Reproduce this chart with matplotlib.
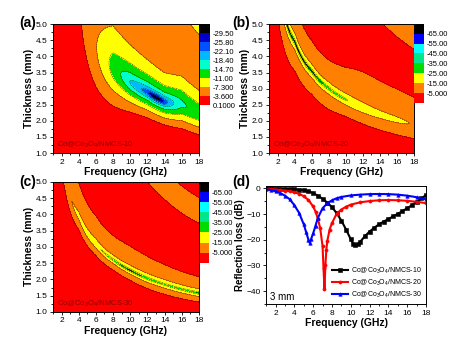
import numpy as np
import matplotlib.pyplot as plt
from matplotlib.ticker import MultipleLocator, FormatStrFormatter

plt.rcParams['font.family'] = ['Liberation Sans', 'DejaVu Sans']
plt.rcParams['mathtext.fontset'] = 'custom'
plt.rcParams['mathtext.rm'] = 'Liberation Sans'
plt.rcParams['mathtext.default'] = 'regular'

# material parameters are given at these frequencies (GHz)
freq_pts = [1, 2, 4, 6, 8, 10, 12, 14, 16, 18]

# complex refractive index n' - j n'' and normalised impedance z' + j z''
n_re_10 = [5.00, 4.33, 3.28, 2.95, 2.72, 2.64, 2.61, 2.55, 2.40, 2.45]
n_im_10 = [2.16, 2.12, 1.59, 1.306, 0.970, 0.730, 0.610, 0.500, 0.420, 0.390]
z_re_10 = [0.08, 0.10, 0.12, 0.24, 0.34, 0.37, 0.40, 0.46, 0.58, 0.62]
z_im_10 = [0.05, 0.06, 0.08, 0.10, 0.14, 0.20, 0.30, 0.30, 0.30, 0.30]

n_re_20 = [7.61, 5.65, 4.19, 3.52, 3.11, 2.96, 2.94, 2.91, 2.86, 2.82]
n_im_20 = [1.237, 0.919, 0.681, 0.572, 0.559, 0.568, 0.666, 0.705, 0.715, 0.735]
z_re_20 = [0.25, 0.25, 0.25, 0.25, 0.26, 0.28, 0.31, 0.33, 0.35, 0.36]
z_im_20 = [0, 0, 0, 0, 0, 0.08, 0.20, 0.30, 0.38, 0.45]

n_re_30 = [9.15, 6.92, 5.23, 4.44, 3.95, 3.82, 3.77, 3.65, 3.54, 3.41]
n_im_30 = [0.420, 0.397, 0.408, 0.428, 0.417, 0.397, 0.388, 0.376, 0.343, 0.294]
z_re_30 = [0.20, 0.20, 0.20, 0.20, 0.20, 0.20, 0.20, 0.20, 0.20, 0.20]
z_im_30 = [0.15, 0.15, 0.15, 0.15, 0.15, 0.25, 0.36, 0.42, 0.46, 0.48]

# reflection loss at 3 mm (panel d)
f_10 = [1.0, 1.5, 2.0, 2.5, 3.0, 3.5, 4.0, 4.5, 5.0, 5.5, 6.0, 6.5, 7.0, 7.5, 8.0, 8.5,
        9.0, 9.5, 10.0, 10.25, 10.5, 10.75, 11.0, 11.5, 12.0, 12.5, 13.0, 13.5, 14.0,
        14.5, 15.0, 15.5, 16.0, 16.5, 17.0, 17.5, 18.0]
rl_10 = [0.0, 0.0, -0.05, -0.1, -0.15, -0.2, -0.3, -0.45, -0.7, -1.1, -1.8, -2.8, -4.0,
         -5.5, -7.3, -9.6, -12.5, -16.0, -19.8, -21.5, -22.2, -21.8, -20.8, -18.6, -16.8,
         -15.3, -14.0, -12.9, -11.9, -10.9, -9.9, -8.8, -7.7, -6.5, -5.2, -3.9, -2.6]

f_20 = [1.0, 1.5, 2.0, 2.5, 3.0, 3.5, 4.0, 4.5, 5.0, 5.5, 6.0, 6.25, 6.5, 6.75, 7.0, 7.1,
        7.2, 7.3, 7.4, 7.5, 7.75, 8.0, 8.5, 9.0, 9.5, 10.0, 11.0, 12.0, 13.0, 14.0, 15.0,
        16.0, 17.0, 18.0]
rl_20 = [-0.2, -0.3, -0.4, -0.6, -0.8, -1.1, -1.5, -2.1, -3.0, -4.5, -7.0, -9.0, -11.8,
         -15.5, -22.5, -31.0, -39.2, -30.0, -24.0, -20.5, -16.0, -13.5, -9.8, -8.2, -7.1,
         -6.3, -5.4, -4.9, -4.6, -4.5, -4.6, -4.8, -5.2, -5.7]

f_30 = [1.0, 1.5, 2.0, 2.5, 3.0, 3.5, 4.0, 4.5, 5.0, 5.25, 5.5, 5.65, 5.8, 6.0, 6.25,
        6.5, 7.0, 7.5, 8.0, 8.5, 9.0, 10.0, 11.0, 12.0, 13.0, 14.0, 15.0, 16.0, 17.0, 18.0]
rl_30 = [-0.3, -0.6, -1.1, -1.8, -2.8, -4.2, -6.5, -9.5, -14.0, -17.0, -20.0, -21.3,
         -19.5, -17.5, -14.5, -11.5, -7.7, -5.8, -4.6, -3.8, -3.3, -2.7, -2.4, -2.2,
         -2.15, -2.2, -2.4, -2.8, -3.4, -4.2]

names = ['Co@Co$_3$O$_4$/NMCS-10', 'Co@Co$_3$O$_4$/NMCS-20', 'Co@Co$_3$O$_4$/NMCS-30']

levels_a = [-40, -29.5, -25.8, -22.1, -18.4, -14.7, -11.0, -7.3, -3.6, 0.1]
labels_a = ['-29.50', '-25.80', '-22.10', '-18.40', '-14.70', '-11.00', '-7.300',
            '-3.600', '0.1000']
colors_a = ['#000000', '#0000c8', '#0050ff', '#00b9ff', '#00ffcc', '#00e000',
            '#ffff00', '#ff8000', '#ff0000']

levels_bc = [-100, -65, -55, -45, -35, -25, -15, -5, 10]
labels_bc = ['-65.00', '-55.00', '-45.00', '-35.00', '-25.00', '-15.00', '-5.000']
colors_bc = ['#000000', '#0000ff', '#00ffff', '#00e68c', '#00dc00', '#ffff00',
             '#ff8000', '#ff0000']


def rl_map(n_re, n_im, z_re, z_im, f, d):
    # metal backed single layer, f in GHz, d in mm
    n = np.interp(f, freq_pts, n_re) - 1j * np.interp(f, freq_pts, n_im)
    z = np.interp(f, freq_pts, z_re) + 1j * np.interp(f, freq_pts, z_im)
    zin = z * np.tanh(1j * 2 * np.pi * f * d * n / 300.0)
    return 20 * np.log10(np.abs((zin - 1) / (zin + 1)))


F, D = np.meshgrid(np.linspace(1, 18, 500), np.linspace(1, 5, 400))

fig = plt.figure(figsize=(4.77, 3.61), dpi=100)


def style_axes(ax):
    ax.tick_params(which='both', direction='out', width=0.6, labelsize=6, pad=1.5)
    ax.tick_params(which='major', length=2.5)
    ax.tick_params(which='minor', length=1.5)
    for sp in ax.spines.values():
        sp.set_linewidth(0.7)


def contour_panel(ax_pos, cb_pos, params, levels, colors, ticklabels, name):
    ax = fig.add_axes(ax_pos)
    rl = rl_map(*params, F, D)
    rl = np.clip(rl, levels[0] + 0.01, levels[-1] - 0.01)
    cs = ax.contourf(F, D, rl, levels=levels, colors=colors)
    ax.contour(F, D, rl, levels=levels[1:-1], colors='k', linewidths=0.3)
    ax.set_xlim(1, 18)
    ax.set_ylim(1, 5)
    ax.set_xticks(range(2, 19, 2))
    ax.xaxis.set_minor_locator(MultipleLocator(1))
    ax.yaxis.set_major_locator(MultipleLocator(0.5))
    ax.yaxis.set_minor_locator(MultipleLocator(0.25))
    ax.yaxis.set_major_formatter(FormatStrFormatter('%.1f'))
    style_axes(ax)
    ax.set_xlabel('Frequency (GHz)', fontsize=7.5, fontweight='bold', labelpad=1)
    ax.set_ylabel('Thickness (mm)', fontsize=7.5, fontweight='bold', labelpad=1)
    ax.text(0.03, 0.065, name, transform=ax.transAxes, fontsize=5.5,
            color='#8b0000', va='center')

    cax = fig.add_axes(cb_pos)
    nt = len(ticklabels)
    cb = fig.colorbar(cs, cax=cax, ticks=levels[1:1 + nt])
    cb.ax.invert_yaxis()
    cb.set_ticklabels(ticklabels)
    cb.ax.tick_params(length=0, labelsize=5.5, pad=2)
    cb.outline.set_visible(False)
    return ax


contour_panel([0.111, 0.576, 0.306, 0.357], [0.419, 0.709, 0.021, 0.224],
              (n_re_10, n_im_10, z_re_10, z_im_10), levels_a, colors_a, labels_a, names[0])
contour_panel([0.564, 0.576, 0.304, 0.357], [0.868, 0.715, 0.021, 0.219],
              (n_re_20, n_im_20, z_re_20, z_im_20), levels_bc, colors_bc, labels_bc, names[1])
contour_panel([0.111, 0.136, 0.306, 0.360], [0.419, 0.272, 0.019, 0.224],
              (n_re_30, n_im_30, z_re_30, z_im_30), levels_bc, colors_bc, labels_bc, names[2])

# panel (d): reflection loss curves at 3 mm
ax = fig.add_axes([0.558, 0.158, 0.335, 0.327])
ax.plot(f_10, rl_10, '-s', color='k', lw=1.5, ms=2.3, mew=0.4, label=names[0])
ax.plot(f_20, rl_20, '-o', color='#ff0000', lw=1.5, ms=2.3, mew=0.4, label=names[1])
ax.plot(f_30, rl_30, '-^', color='#0000ff', lw=1.5, ms=2.5, mew=0.4, label=names[2])
ax.set_xlim(1, 18)
ax.set_ylim(-45, 1)
ax.set_xticks(range(2, 19, 2))
ax.xaxis.set_minor_locator(MultipleLocator(1))
ax.set_yticks([0, -10, -20, -30, -40])
ax.yaxis.set_minor_locator(MultipleLocator(5))
style_axes(ax)
ax.set_xlabel('Frequency (GHz)', fontsize=7.5, fontweight='bold', labelpad=1)
ax.set_ylabel('Reflection loss (dB)', fontsize=7, fontweight='bold', labelpad=1)
ax.text(0.025, 0.06, '3 mm', transform=ax.transAxes, fontsize=7, va='center')
ax.legend(loc='lower right', frameon=False, fontsize=5, handlelength=2.3,
          labelspacing=0.25, borderaxespad=0.2, handletextpad=0.4)

for x, y, s in [(0.040, 0.936, '(a)'), (0.487, 0.936, '(b)'),
                (0.040, 0.497, '(c)'), (0.487, 0.497, '(d)')]:
    fig.text(x, y, s, fontsize=10, fontweight='bold', va='center')

fig.savefig('out.png', dpi=100)
